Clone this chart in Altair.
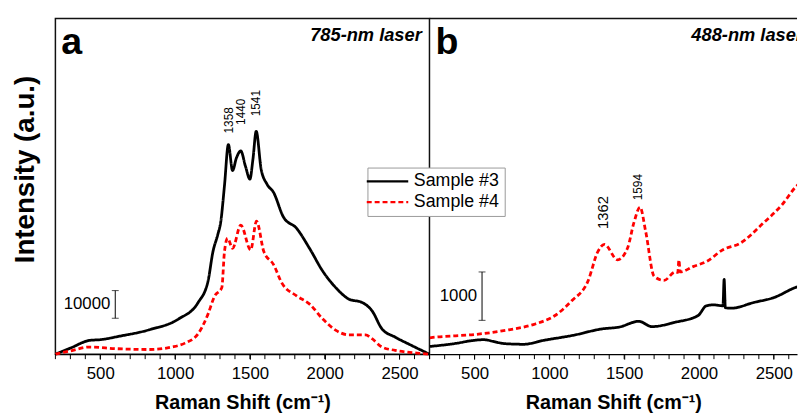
import altair as alt
import pandas as pd

FONT = "Liberation Sans"

# ---------------- Panel a : 785-nm laser ----------------
a3_x = [200, 300, 430, 500, 628, 825, 1022, 1154, 1220, 1253, 1285, 1305, 1330, 1356, 1384,
        1410, 1439, 1470, 1500, 1520, 1542, 1575, 1614, 1658, 1724, 1812, 1898, 1987, 2075,
        2162, 2250, 2316, 2382, 2470, 2579, 2700]
a3_y = [0, 2200, 5000, 5250, 6500, 8800, 12700, 18700, 26400, 37100, 43200, 47800, 61000, 75800, 66400,
        71000, 73500, 68000, 63300, 70400, 80600, 66900, 61500, 58500, 49600, 45500, 38300, 30000, 24000,
        19900, 18700, 15700, 9200, 6200, 3200, 0]

a4_x = [200, 300, 430, 606, 825, 978, 1066, 1154, 1220, 1264, 1312, 1330, 1351, 1384, 1439, 1505,
        1544, 1593, 1658, 1713, 1812, 1899, 1987, 2075, 2162, 2272, 2316, 2382, 2470, 2645, 2700]
a4_y = [0, 1200, 2600, 2000, 1700, 2600, 4000, 7400, 14500, 21000, 24000, 37100, 41900, 38300, 46700, 37700,
        48100, 37100, 32400, 25800, 21100, 18100, 12700, 8600, 7000, 7000, 5600, 2600, 1400, 250, 0]

a_peaks = ["1358", "1440", "1541"]
a_peak_x = [1358, 1440, 1541]
a_peak_label_y = [79800, 82900, 86000]

a_bar_x, a_bar_y0, a_bar_y1, a_bar_label = 600, 13000, 23000, "10000"

# ---------------- Panel b : 488-nm laser ----------------
b3_x = [200, 388, 480, 564, 630, 696, 828, 960, 1158, 1356, 1466, 1598, 1686, 1840, 1994, 2049,
        2100, 2160, 2168, 2176, 2214, 2368, 2500, 2654, 2700]
b3_y = [160, 230, 280, 300, 260, 220, 205, 285, 390, 525, 560, 680, 570, 660, 800, 1000,
        1020, 1000, 1545, 960, 950, 1070, 1170, 1390, 1430]

b4_x = [200, 246, 510, 730, 906, 1038, 1148, 1258, 1324, 1368, 1456, 1522, 1566, 1606, 1644, 1700,
        1766, 1842, 1858, 1866, 1874, 1960, 2053, 2160, 2273, 2426, 2558, 2654, 2700]
b4_y = [340, 355, 410, 505, 625, 800, 1100, 1510, 2120, 2270, 1950, 2190, 2730, 3040, 2530, 1610,
        1525, 1700, 1690, 1950, 1700, 1810, 1920, 2160, 2290, 2700, 3100, 3480, 3580]

b_peak_big = ["1362"]
b_peak_big_x = [1362]
b_peak_big_y = [2590]
b_peak_small = ["1594"]
b_peak_small_x = [1594]
b_peak_small_y = [3180]

b_bar_x, b_bar_y0, b_bar_y1, b_bar_label = 550, 700, 1700, "1000"

samples = ["Sample #3", "Sample #4"]
x_title = "Raman Shift (cm⁻¹)"
y_title = "Intensity (a.u.)"
major_ticks = [500, 1000, 1500, 2000, 2500]
minor_ticks = list(range(200, 2701, 100))

# layout: panel a shows 200-2700, panel b is cut off by the page edge
XMIN, XMAX = 200, 2700
WA, H = 378.8, 340
PX = WA / (XMAX - XMIN)
WB = 372.0
XMAX_B = XMIN + WB / PX


def lines_df(x3, y3, x4, y4):
    return pd.concat([
        pd.DataFrame({"shift": x3, "inten": y3, "sample": samples[0]}),
        pd.DataFrame({"shift": x4, "inten": y4, "sample": samples[1]}),
    ])


color_scale = alt.Scale(domain=samples, range=["black", "#ff0000"])
dash_scale = alt.Scale(domain=samples, range=[[1, 0], [5, 3]])

legend = alt.Legend(
    title=None, orient="none", legendX=316, legendY=151,
    symbolType="M-2.1,0L3.9,0", symbolSize=196, symbolStrokeWidth=2.5,
    labelFontSize=18, labelFont=FONT, labelColor="black", labelOffset=24,
    strokeColor="#999999", fillColor="white", padding=5, rowPadding=3,
)

# one invisible y axis shared by every layer (so that the layers merge cleanly)
Y_AXIS = alt.Axis(title=None, labels=False, ticks=False, domain=False, grid=False)


def major_axis(xmax):
    return alt.Axis(
        title=x_title, values=[v for v in major_ticks if v <= xmax], format="d",
        orient="bottom", labelOverlap=False, grid=False, tickSize=5,
        labelPadding=7, titlePadding=11,
        labelFontSize=17, titleFontSize=20, titleFontWeight="bold",
    )


def panel(x3, y3, x4, y4, ydom, letter, laser, laser_x, bar, xmax, clip):
    xscale = alt.Scale(domain=[XMIN, xmax], nice=False, zero=False)
    yscale = alt.Scale(domain=[0, ydom], nice=False, zero=False)
    xa = major_axis(xmax)
    df = lines_df(x3, y3, x4, y4)
    base = alt.Chart(df).mark_line(strokeWidth=2.8, interpolate="monotone", clip=clip).encode(
        x=alt.X("shift:Q", scale=xscale, axis=xa),
        y=alt.Y("inten:Q", scale=yscale, axis=Y_AXIS),
        color=alt.Color("sample:N", scale=color_scale, legend=legend),
        strokeDash=alt.StrokeDash("sample:N", scale=dash_scale, legend=legend),
    )
    minor = alt.Chart(pd.DataFrame({"t": [v for v in minor_ticks if v <= xmax]})).mark_rule(
        color="black", strokeWidth=1).encode(
        x=alt.X("t:Q", scale=xscale, axis=xa), y=alt.value(H), y2=alt.value(H + 5))
    bx, by0, by1, blabel = bar
    bar_df = pd.DataFrame({"x": [bx], "y0": [by0], "y1": [by1], "lab": [blabel],
                           "ym": [(by0 + by1) / 2]})
    bar_rule = alt.Chart(bar_df).mark_rule(color="black", strokeWidth=1).encode(
        x=alt.X("x:Q", scale=xscale, axis=xa), y=alt.Y("y0:Q", scale=yscale, axis=Y_AXIS), y2="y1:Q")
    caps_df = pd.DataFrame({"x": [bx, bx], "y": [by0, by1]})
    caps = alt.Chart(caps_df).mark_tick(orient="horizontal", size=7, thickness=1, color="black").encode(
        x=alt.X("x:Q", scale=xscale, axis=xa), y=alt.Y("y:Q", scale=yscale, axis=Y_AXIS))
    bar_text = alt.Chart(bar_df).mark_text(align="right", baseline="middle", dx=-5,
                                           fontSize=17, font=FONT, color="black").encode(
        x=alt.X("x:Q", scale=xscale, axis=xa), y=alt.Y("ym:Q", scale=yscale, axis=Y_AXIS), text="lab:N")
    letter_t = alt.Chart(pd.DataFrame({"t": [letter]})).mark_text(
        align="left", baseline="alphabetic", fontSize=38, fontWeight="bold", font=FONT, color="black"
    ).encode(x=alt.value(6), y=alt.value(36), text="t:N")
    laser_t = alt.Chart(pd.DataFrame({"t": [laser]})).mark_text(
        align="left", baseline="alphabetic", fontSize=18.5, fontWeight="bold", fontStyle="italic",
        font=FONT, color="black", clip=clip
    ).encode(x=alt.value(laser_x), y=alt.value(23), text="t:N")
    return [base, minor, caps, bar_rule, bar_text, letter_t, laser_t], xscale, yscale, xa


a_layers, a_xs, a_ys, a_xa = panel(
    a3_x, a3_y, a4_x, a4_y, 121400,
    "a", "785-nm laser", 258, (a_bar_x, a_bar_y0, a_bar_y1, a_bar_label), XMAX, False)

a_lab = alt.Chart(pd.DataFrame({"x": a_peak_x, "y": a_peak_label_y, "t": a_peaks})).mark_text(
    angle=270, align="left", baseline="middle", fontSize=12, font=FONT, color="black").encode(
    x=alt.X("x:Q", scale=a_xs, axis=a_xa), y=alt.Y("y:Q", scale=a_ys, axis=Y_AXIS), text="t:N")

y_title_t = alt.Chart(pd.DataFrame({"t": [y_title]})).mark_text(
    angle=270, align="center", baseline="middle", fontSize=28, fontWeight="bold",
    font=FONT, color="black").encode(x=alt.value(-30), y=alt.value(153), text="t:N")

b_layers, b_xs, b_ys, b_xa = panel(
    b3_x, b3_y, b4_x, b4_y, 6940,
    "b", "488-nm laser", 265, (b_bar_x, b_bar_y0, b_bar_y1, b_bar_label), XMAX_B, True)

b_lab1 = alt.Chart(pd.DataFrame({"x": b_peak_big_x, "y": b_peak_big_y, "t": b_peak_big})).mark_text(
    angle=270, align="left", baseline="middle", fontSize=15, font=FONT, color="black").encode(
    x=alt.X("x:Q", scale=b_xs, axis=b_xa), y=alt.Y("y:Q", scale=b_ys, axis=Y_AXIS), text="t:N")
b_lab2 = alt.Chart(pd.DataFrame({"x": b_peak_small_x, "y": b_peak_small_y, "t": b_peak_small})).mark_text(
    angle=270, align="left", baseline="middle", fontSize=12, font=FONT, color="black").encode(
    x=alt.X("x:Q", scale=b_xs, axis=b_xa), y=alt.Y("y:Q", scale=b_ys, axis=Y_AXIS), text="t:N")

# top frame line of panel b (its right side is cut by the page edge)
b_top = alt.Chart(pd.DataFrame({"k": [0]})).mark_rule(color="#111111", strokeWidth=1.5).encode(
    x=alt.value(0), x2=alt.value(WB), y=alt.value(0))

pa = alt.layer(*a_layers, a_lab, y_title_t).properties(width=WA, height=H)
pb = alt.layer(*b_layers, b_lab1, b_lab2, b_top).properties(
    width=WB, height=H, view=alt.ViewBackground(stroke="transparent"))

chart = alt.hconcat(pa, pb, spacing=0, bounds="flush").properties(
    padding={"left": 3, "top": 6, "right": 0, "bottom": 0}
).configure_view(
    stroke="#111111", strokeWidth=1.5
).configure_axis(
    labelFont=FONT, titleFont=FONT, labelColor="black", titleColor="black",
    domainColor="black", tickColor="black", domainWidth=1.2,
).configure_text(font=FONT)

chart.save("out.html", embed_options={"renderer": "svg", "actions": False})
